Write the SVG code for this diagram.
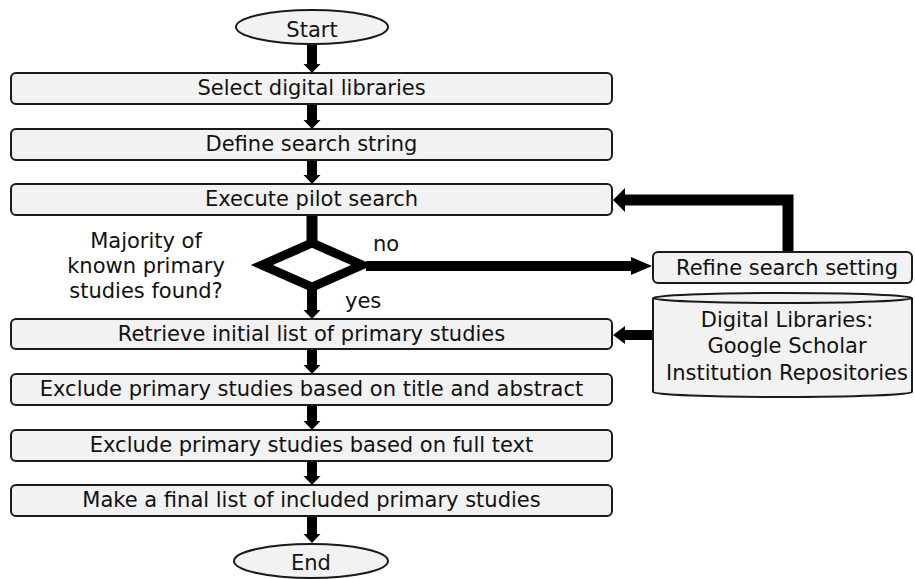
<svg xmlns="http://www.w3.org/2000/svg" width="915" height="579" viewBox="0 0 915 579">
<style>
.box{fill:#f2f2f2;stroke:#1a1a1a;stroke-width:2}
.t{font-family:"DejaVu Sans",Verdana,sans-serif;font-size:21px;fill:#111;text-anchor:middle}
.l{font-family:"DejaVu Sans",Verdana,sans-serif;font-size:21px;fill:#111}
.ln{fill:none;stroke:#000;stroke-linejoin:miter}
.ah{fill:#000}
</style>
<rect width="915" height="579" fill="#fff"/>
<g id="connectors">
  <!-- vertical arrows -->
  <path class="ah" d="M307,44 H317 V64 H320.5 L312,73 L303.5,64 H307 Z"/>
  <path class="ah" d="M307,104 H317 V120 H320.5 L312,129 L303.5,120 H307 Z"/>
  <path class="ah" d="M307,160 H317 V175 H320.5 L312,184 L303.5,175 H307 Z"/>
  <line class="ln" x1="312" y1="215" x2="312" y2="242" stroke-width="11"/>
  <path class="ah" d="M307,288 H317 V310 H320.5 L312,319 L303.5,310 H307 Z"/>
  <path class="ah" d="M307,349 H317 V365 H320.5 L312,374 L303.5,365 H307 Z"/>
  <path class="ah" d="M307,405 H317 V421 H320.5 L312,430 L303.5,421 H307 Z"/>
  <path class="ah" d="M307,461 H317 V476 H320.5 L312,485 L303.5,476 H307 Z"/>
  <path class="ah" d="M307,516 H317 V534 H320.5 L312,543 L303.5,534 H307 Z"/>
  <!-- no -> refine -->
  <line class="ln" x1="366" y1="266" x2="633" y2="266" stroke-width="10"/>
  <path class="ah" d="M631,257 L652,266 L631,275 Z"/>
  <!-- refine -> execute (feedback) -->
  <polyline class="ln" points="788,252 788,200 624,200" stroke-width="11"/>
  <path class="ah" d="M625,188 L613,200 L625,212 Z"/>
  <!-- digital libraries -> retrieve -->
  <line class="ln" x1="653" y1="335" x2="623" y2="335" stroke-width="10"/>
  <path class="ah" d="M625,326 L613,335 L625,344 Z"/>
</g>
<g id="start">
  <ellipse class="box" cx="312" cy="27" rx="76" ry="17"/>
  <text class="t" x="312" y="37">Start</text>
</g>
<g id="select">
  <rect class="box" x="11" y="73" width="601" height="31" rx="5"/>
  <text class="t" x="311.5" y="95">Select digital libraries</text>
</g>
<g id="define">
  <rect class="box" x="11" y="129" width="601" height="31" rx="5"/>
  <text class="t" x="311.5" y="151">Define search string</text>
</g>
<g id="execute">
  <rect class="box" x="11" y="184" width="601" height="31" rx="5"/>
  <text class="t" x="311.5" y="206">Execute pilot search</text>
</g>
<g id="decision">
  <path d="M262,265 L312,243 L362,265 L312,287 Z" fill="#fff" stroke="#000" stroke-width="9" stroke-linejoin="miter" stroke-miterlimit="10"/>
  <text class="t" x="146" y="248">Majority of</text>
  <text class="t" x="146" y="273">known primary</text>
  <text class="t" x="146" y="298">studies found?</text>
  <text class="l" x="373" y="251">no</text>
  <text class="l" x="345" y="308">yes</text>
</g>
<g id="refine">
  <rect class="box" x="653" y="252" width="259" height="31" rx="5"/>
  <text class="t" x="787" y="275">Refine search setting</text>
</g>
<g id="digital-libraries">
  <path class="box" d="M653,298 A129.5,5 0 0 1 912,298 L912,392 A129.5,5 0 0 1 653,392 Z"/>
  <path d="M653,298 A129.5,5 0 0 0 912,298" fill="none" stroke="#1a1a1a" stroke-width="2"/>
  <text class="t" x="787" y="327">Digital Libraries:</text>
  <text class="t" x="787" y="353">Google Scholar</text>
  <text class="t" x="787" y="380">Institution Repositories</text>
</g>
<g id="retrieve">
  <rect class="box" x="11" y="319" width="601" height="30" rx="5"/>
  <text class="t" x="311.5" y="341">Retrieve initial list of primary studies</text>
</g>
<g id="exclude-title">
  <rect class="box" x="11" y="374" width="601" height="31" rx="5"/>
  <text class="t" x="311.5" y="396">Exclude primary studies based on title and abstract</text>
</g>
<g id="exclude-full">
  <rect class="box" x="11" y="430" width="601" height="31" rx="5"/>
  <text class="t" x="311.5" y="452">Exclude primary studies based on full text</text>
</g>
<g id="final-list">
  <rect class="box" x="11" y="485" width="601" height="31" rx="5"/>
  <text class="t" x="311.5" y="507">Make a final list of included primary studies</text>
</g>
<g id="end">
  <ellipse class="box" cx="311" cy="561" rx="77" ry="17"/>
  <text class="t" x="311" y="570">End</text>
</g>
</svg>
